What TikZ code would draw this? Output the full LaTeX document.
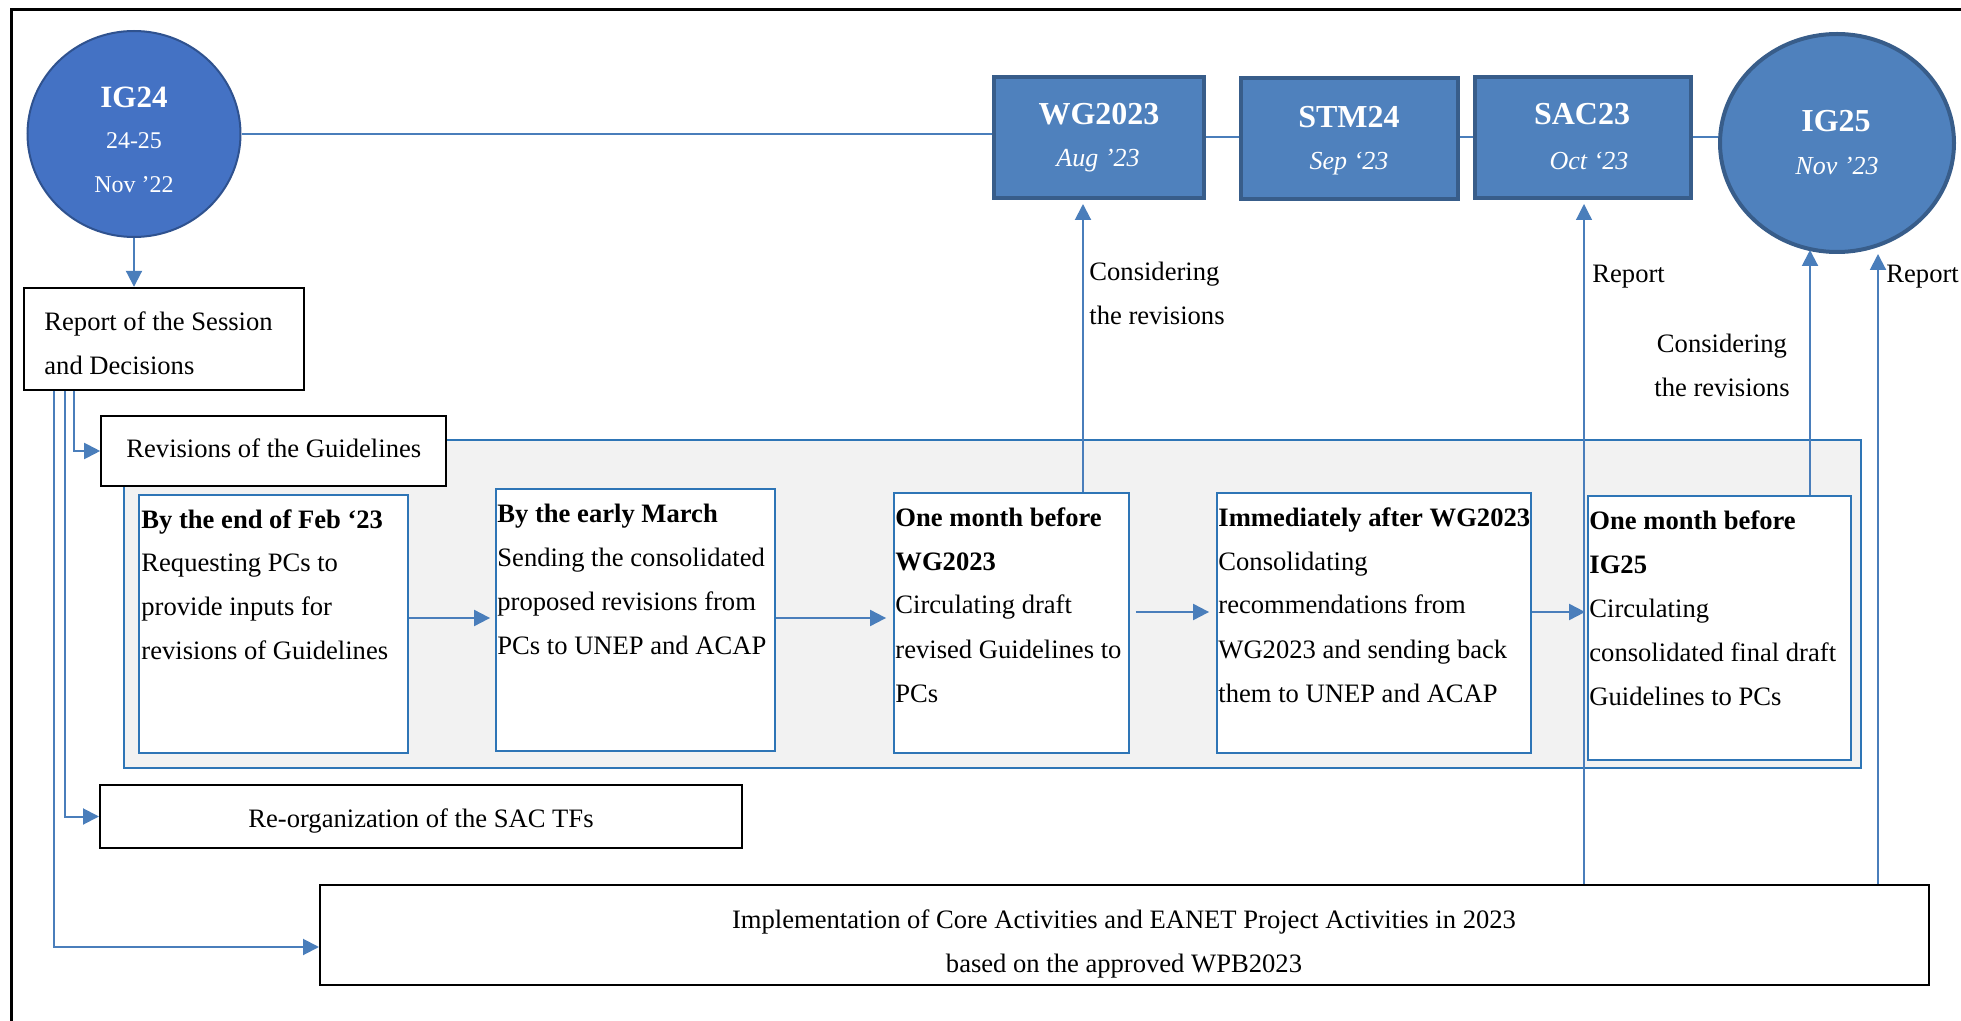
\documentclass[tikz,border=0pt]{standalone}
\usepackage{fontspec}
\setmainfont{Liberation Serif}
\usetikzlibrary{arrows.meta,shapes.geometric,fit,calc}
\definecolor{lineblue}{HTML}{4A7EBB}
\definecolor{boxblue}{HTML}{2E75B6}
\definecolor{meetfill}{HTML}{4F81BD}
\definecolor{meetborder}{HTML}{385D8A}
\definecolor{igfill}{HTML}{4472C4}
\definecolor{igborder}{HTML}{2F528F}
\definecolor{panelfill}{HTML}{F2F2F2}
\begin{document}
\begin{tikzpicture}[x=0.5pt,y=-0.5pt,
  conn/.style={draw=lineblue, line width=1pt},
  arr/.style={conn, -{Triangle[length=8pt,width=8pt]}},
  thinarr/.style={arr, line width=0.6pt},
  stepbox/.style={draw=boxblue, line width=0.9pt, fill=white, inner sep=0pt},
  plainbox/.style={draw=black, line width=1pt, fill=white, inner sep=0pt},
  meetbox/.style={draw=meetborder, line width=2pt, fill=meetfill, inner sep=0pt},
  panel/.style={draw=boxblue, line width=0.9pt, fill=panelfill, inner sep=0pt},
  stxt/.style={anchor=base west, inner sep=0pt, align=left, font=\fontsize{13.3pt}{22pt}\selectfont},
  ctxt/.style={anchor=base, inner sep=0pt, align=center, font=\fontsize{13.3pt}{22pt}\selectfont},
  hd/.style={anchor=base, inner sep=0pt, text=white, font=\fontsize{16pt}{19pt}\selectfont\bfseries},
  sub/.style={anchor=base, inner sep=0pt, text=white, font=\fontsize{13pt}{16pt}\selectfont\itshape},
  igsub/.style={anchor=base, inner sep=0pt, align=center, text=white, font=\fontsize{12pt}{22pt}\selectfont}
]
\useasboundingbox (0,0) rectangle (1961,1021);

% outer frame
\draw[line width=1.5pt] (11,1021) -- (11,10) -- (1961,10);

% meetings
\node[ellipse, draw=igborder, line width=1pt, fill=igfill, minimum width=106.5pt, minimum height=103pt, inner sep=0pt] (ig24) at (134,134) {};
\node[anchor=base, inner sep=0pt, text=white, font=\fontsize{15.5pt}{18pt}\selectfont\bfseries] (ig24h) at (134,108) {IG24};
\node[igsub] (ig24s) at (134,193) {24-25\\Nov ’22};

\node[meetbox, fit={(994,77) (1204,198)}] (wg) {};
\node[meetbox, fit={(1241,78) (1458,199)}] (stm) {};
\node[meetbox, fit={(1475,77) (1691,198)}] (sac) {};
\node[ellipse, draw=meetborder, line width=2pt, fill=meetfill, minimum width=117pt, minimum height=109pt, inner sep=0pt] (ig25) at (1837,143) {};

\node[hd] (wgh) at (1099,125) {WG2023};
\node[sub] (wgs) at (1098,167) {Aug ’23};
\node[hd] (stmh) at (1349,128) {STM24};
\node[sub] (stms) at (1349,170) {Sep ‘23};
\node[hd] (sach) at (1582,125) {SAC23};
\node[sub] (sacs) at (1589,170) {Oct ‘23};
\node[hd] (ig25h) at (1836,132) {IG25};
\node[sub] (ig25s) at (1837,175) {Nov ’23};

% timeline lines
\draw[conn] (ig24.east) -- (wg.west |- ig24.east);
\draw[conn] (wg.east) -- (wg.east -| stm.west);
\draw[conn] (sac.west -| stm.east) -- (sac.west);
\draw[conn] (sac.east) -- (sac.east -| ig25.west);

% report box
\node[plainbox, line width=1.2pt, fit={(24,288) (304,390)}] (rep) {};
\node[stxt] (rept) at (44,375) {Report of the Session\\and Decisions};
\draw[arr] (ig24.south) -- (ig24.south |- rep.north);

% panel
\node[panel, fit={(124,440) (1861,768)}] (pan) {};

% vertical connector positions
\coordinate (v1) at (1083,0);
\coordinate (v2) at (1584,0);
\coordinate (v3) at (1810,0);
\coordinate (v4) at (1878,0);

% boxes
\node[plainbox, line width=0.8pt, fit={(101,416) (446,486)}] (rev) {};
\node[stxt] (revt) at (126,458) {Revisions of the Guidelines};

\node[stepbox, fit={(139,495) (408,753)}] (b1) {};
\node[stepbox, fit={(496,489) (775,751)}] (b2) {};
\node[stepbox, fit={(894,493) (1129,753)}] (b3) {};
\node[stepbox, fit={(1217,493) (1531,753)}] (b4) {};
\node[stepbox, fit={(1588,496) (1851,760)}] (b5) {};

\node[stxt] (t1) at (141,660) {\textbf{By the end of Feb ‘23}\\Requesting PCs to\\provide inputs for\\revisions of Guidelines};
\node[stxt] (t2) at (497,654) {\textbf{By the early March}\\Sending the consolidated\\proposed revisions from\\PCs to UNEP and ACAP};
\node[stxt] (t3) at (895,702) {\textbf{One month before}\\\textbf{WG2023}\\Circulating draft\\revised Guidelines to\\PCs};
\node[stxt] (t4) at (1218,702) {\textbf{Immediately after WG2023}\\Consolidating\\recommendations from\\WG2023 and sending back\\them to UNEP and ACAP};
\node[stxt] (t5) at (1589,705) {\textbf{One month before}\\\textbf{IG25}\\Circulating\\consolidated final draft\\Guidelines to PCs};

\node[plainbox, fit={(100,785) (742,848)}] (reorg) {};
\node[ctxt] (reorgt) at (421,827) {Re-organization of the SAC TFs};
\node[plainbox, fit={(320,885) (1929,985)}] (impl) {};
\node[ctxt] (implt) at (1124,972) {Implementation of Core Activities and EANET Project Activities in 2023\\based on the approved WPB2023};

% step arrows
\coordinate (a1) at (0,618);
\coordinate (a2) at (0,612);
\draw[arr, shorten >=2.5pt] (b1.east |- a1) -- (b2.west |- a1);
\draw[arr, shorten >=3.5pt] (b2.east |- a1) -- (b3.west |- a1);
\draw[arr, shorten <=3pt, shorten >=3.5pt] (b3.east |- a2) -- (b4.west |- a2);
\draw[arr, shorten >=1pt] (b4.east |- a2) -- (b5.west |- a2);

% upward connectors
\draw[arr, shorten >=2pt] (v1 |- b3.north) -- (v1 |- wg.south);
\draw[thinarr, shorten >=2pt] (v2 |- impl.north) -- (v2 |- sac.south);
\draw[arr, shorten >=-2pt] (v3 |- b5.north) -- (v3 |- ig25.south);
\draw[arr] (v4 |- impl.north) -- (v4 |- ig25.south);

\node[stxt] (lab1) at (1089,325) {Considering\\the revisions};
\node[stxt] (lab2) at (1592,283) {Report};
\node[ctxt] (lab3) at (1722,397) {Considering\\the revisions};
\node[stxt] (lab4) at (1886,283) {Report};

% left connectors
\coordinate (l1) at (54,0);
\coordinate (l2) at (65,0);
\coordinate (l3) at (74,0);
\draw[arr] (l3 |- rep.south) |- (rev.west);
\draw[arr] (l2 |- rep.south) |- (reorg.west);
\draw[arr] (l1 |- rep.south) |- ($(impl.west)+(0,12)$);
\end{tikzpicture}
\end{document}
